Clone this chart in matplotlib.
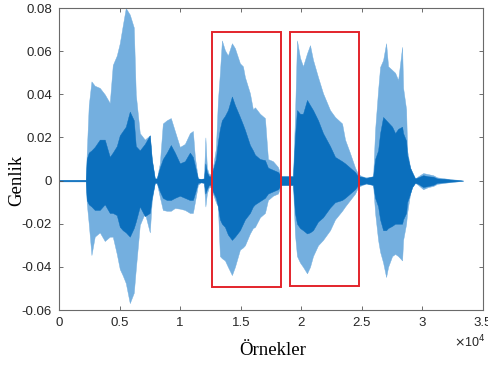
import matplotlib
matplotlib.use("Agg")
import matplotlib.pyplot as plt
from matplotlib.patches import Rectangle

# sample positions (envelope read points)
samples = [0, 2207, 2289, 2455, 2678, 2950, 3364, 3777, 4190, 4438, 4769, 5017, 5264, 5512,
           5843, 6174, 6339, 6669, 7083, 7496, 7661, 7909,
           8074, 8322, 8570, 8901, 9231, 9562, 9975, 10388, 10802, 11050, 11215, 11463, 11711,
           11959, 12083, 12207, 12372, 12537,
           12702, 12950, 13116, 13281, 13446, 13694, 13942, 14273, 14521, 14934, 15182, 15347,
           15760, 16008, 16174, 16587, 17000, 17248, 17661, 18074, 18322,
           19314, 19479, 19645, 19893, 20140, 20471, 20719, 20967, 21380, 21793, 22372, 22785,
           23364, 23612, 24025, 24438, 24686, 25017, 25347,
           25926, 26091, 26339, 26504, 26752, 27000, 27165, 27496, 27744, 27992, 28322, 28405,
           28653, 28736, 28983, 29149, 29397,
           29645, 30058, 30471, 30884, 31215, 31876, 32289, 32868, 33364]

# outer (light) upper envelope
upper_peak = [0.0004, 0.0004, 0.013, 0.035, 0.046, 0.044, 0.043, 0.040, 0.036, 0.0536, 0.058, 0.0637, 0.072, 0.080,
              0.077, 0.071, 0.040, 0.022, 0.019, 0.021, 0.0095, 0.001,
              0.001, 0.008, 0.0265, 0.028, 0.029, 0.023, 0.0156, 0.017, 0.022, 0.023, 0.011, 0.001, 0.0008,
              0.001, 0.020, 0.006, 0.003, 0.003,
              0.006, 0.015, 0.037, 0.050, 0.065, 0.0605, 0.058, 0.0637, 0.0614, 0.0544, 0.053, 0.048,
              0.0405, 0.033, 0.034, 0.031, 0.029, 0.010, 0.009, 0.0063, 0.002,
              0.002, 0.030, 0.065, 0.057, 0.053, 0.059, 0.0628, 0.056, 0.048, 0.0405, 0.0327, 0.0295,
              0.0265, 0.019, 0.0127, 0.006, 0.003, 0.002, 0.0015,
              0.002, 0.0235, 0.042, 0.0527, 0.0559, 0.0637, 0.053, 0.0513, 0.050, 0.0466, 0.062, 0.043,
              0.033, 0.014, 0.006, 0.003, 0.001,
              0.002, 0.0035, 0.003, 0.0025, 0.0015, 0.001, 0.0007, 0.0004, 0.0]

# inner (dense, dark) upper envelope
upper_core = [0.0003, 0.0003, 0.010, 0.013, 0.014, 0.0156, 0.019, 0.019, 0.011, 0.013, 0.016, 0.021, 0.023, 0.025,
              0.032, 0.028, 0.016, 0.014, 0.017, 0.021, 0.010, 0.001,
              0.001, 0.006, 0.010, 0.013, 0.0165, 0.013, 0.008, 0.009, 0.013, 0.011, 0.007, 0.001, 0.0008,
              0.001, 0.008, 0.004, 0.002, 0.002,
              0.005, 0.010, 0.018, 0.024, 0.028, 0.030, 0.0327, 0.039, 0.035, 0.0295, 0.026, 0.0235,
              0.0165, 0.014, 0.012, 0.010, 0.0095, 0.006, 0.005, 0.004, 0.002,
              0.002, 0.020, 0.0327, 0.031, 0.031, 0.0374, 0.035, 0.0327, 0.028, 0.022, 0.016, 0.011,
              0.009, 0.008, 0.006, 0.004, 0.002, 0.0018, 0.0012,
              0.002, 0.010, 0.014, 0.022, 0.0295, 0.028, 0.027, 0.025, 0.022, 0.024, 0.025, 0.022,
              0.0185, 0.012, 0.006, 0.004, 0.001,
              0.0015, 0.0025, 0.002, 0.0018, 0.001, 0.0008, 0.0005, 0.0003, 0.0]

# inner (dense, dark) lower envelope
lower_core = [-0.0003, -0.0003, -0.009, -0.011, -0.012, -0.0136, -0.0136, -0.011, -0.015, -0.015, -0.016, -0.0214, -0.023, -0.024,
              -0.026, -0.022, -0.019, -0.012, -0.0165, -0.015, -0.008, -0.001,
              -0.001, -0.005, -0.008, -0.009, -0.009, -0.008, -0.007, -0.008, -0.009, -0.009, -0.006, -0.001, -0.0008,
              -0.001, -0.006, -0.004, -0.002, -0.002,
              -0.005, -0.008, -0.012, -0.018, -0.020, -0.0215, -0.025, -0.0275, -0.026, -0.023, -0.020, -0.018,
              -0.015, -0.012, -0.011, -0.0095, -0.008, -0.006, -0.005, -0.004, -0.002,
              -0.002, -0.015, -0.020, -0.022, -0.023, -0.0245, -0.024, -0.023, -0.019, -0.017, -0.0125, -0.010,
              -0.009, -0.008, -0.006, -0.004, -0.002, -0.0018, -0.0012,
              -0.002, -0.008, -0.012, -0.018, -0.023, -0.023, -0.022, -0.021, -0.020, -0.020, -0.020, -0.018,
              -0.015, -0.010, -0.006, -0.003, -0.001,
              -0.0015, -0.003, -0.0025, -0.002, -0.001, -0.0008, -0.0005, -0.0003, 0.0]

# outer (light) lower envelope
lower_peak = [-0.0004, -0.0004, -0.0105, -0.020, -0.0345, -0.026, -0.024, -0.028, -0.026, -0.026, -0.034, -0.041, -0.044, -0.0475,
              -0.0568, -0.052, -0.041, -0.0206, -0.015, -0.024, -0.009, -0.001,
              -0.001, -0.0076, -0.0136, -0.014, -0.014, -0.0127, -0.013, -0.0136, -0.015, -0.015, -0.010, -0.002, -0.0008,
              -0.001, -0.012, -0.006, -0.003, -0.003,
              -0.006, -0.010, -0.012, -0.035, -0.036, -0.037, -0.040, -0.0438, -0.040, -0.032, -0.031, -0.030,
              -0.0245, -0.022, -0.0215, -0.017, -0.015, -0.009, -0.007, -0.006, -0.002,
              -0.002, -0.025, -0.035, -0.038, -0.040, -0.043, -0.040, -0.035, -0.030, -0.0275, -0.023, -0.018,
              -0.014, -0.012, -0.009, -0.006, -0.003, -0.002, -0.0015,
              -0.002, -0.015, -0.0275, -0.033, -0.038, -0.0447, -0.040, -0.035, -0.034, -0.035, -0.037, -0.0275,
              -0.020, -0.015, -0.006, -0.003, -0.001,
              -0.002, -0.004, -0.003, -0.0025, -0.0015, -0.001, -0.0007, -0.0004, 0.0]

# highlighted regions: (start sample, end sample, low, high)
box_starts = [12600, 19030]
box_ends = [18350, 24770]
box_lows = [-0.0493, -0.0489]
box_highs = [0.0689, 0.069]

xtick_values = [0, 5000, 10000, 15000, 20000, 25000, 30000, 35000]
xtick_labels = ["0", "0.5", "1", "1.5", "2", "2.5", "3", "3.5"]
ytick_values = [-0.06, -0.04, -0.02, 0, 0.02, 0.04, 0.06, 0.08]
ytick_labels = ["-0.06", "-0.04", "-0.02", "0", "0.02", "0.04", "0.06", "0.08"]

fig = plt.figure(figsize=(4.88, 3.67), dpi=100)
ax = fig.add_axes([0.1209, 0.1553, 0.8689, 0.8227])

light = "#74afdf"
dark = "#0b6fbd"
ax.fill_between(samples, lower_peak, upper_peak, color=light, lw=0.3, edgecolor=light)
ax.fill_between(samples, lower_core, upper_core, color=dark, lw=0.3, edgecolor=dark)

for x0, x1, y0, y1 in zip(box_starts, box_ends, box_lows, box_highs):
    ax.add_patch(Rectangle((x0, y0), x1 - x0, y1 - y0, fill=False,
                           edgecolor="#e3242b", lw=1.4, zorder=5))

ax.set_xlim(0, 35000)
ax.set_ylim(-0.06, 0.08)
ax.set_xticks(xtick_values)
ax.set_xticklabels(xtick_labels)
ax.set_yticks(ytick_values)
ax.set_yticklabels(ytick_labels)

for lab in ax.get_xticklabels() + ax.get_yticklabels():
    lab.set_fontfamily("Liberation Sans")
    lab.set_fontsize(9.5)
    lab.set_color("#262626")

ax.tick_params(direction="in", length=3, width=0.6, color="#555555",
               top=True, right=True)
ax.tick_params(axis="x", pad=5)
ax.tick_params(axis="y", pad=5)
for s in ax.spines.values():
    s.set_color("#6a6a6a")
    s.set_linewidth(0.8)

ax.set_xlabel("Örnekler", family="Liberation Serif", fontsize=13.5, color="black")
ax.set_ylabel("Genlik", family="Liberation Serif", fontsize=13.5, color="black")
ax.xaxis.set_label_coords(0.505, -0.135)
ax.yaxis.set_label_coords(-0.099, 0.43)
ax.xaxis.label.set_verticalalignment("center")
ax.yaxis.label.set_verticalalignment("center")

fig.text(0.93, 0.055, r"$\times$10$^4$", family="Liberation Sans", fontsize=9, color="#262626")

fig.savefig("out.png", dpi=100)
